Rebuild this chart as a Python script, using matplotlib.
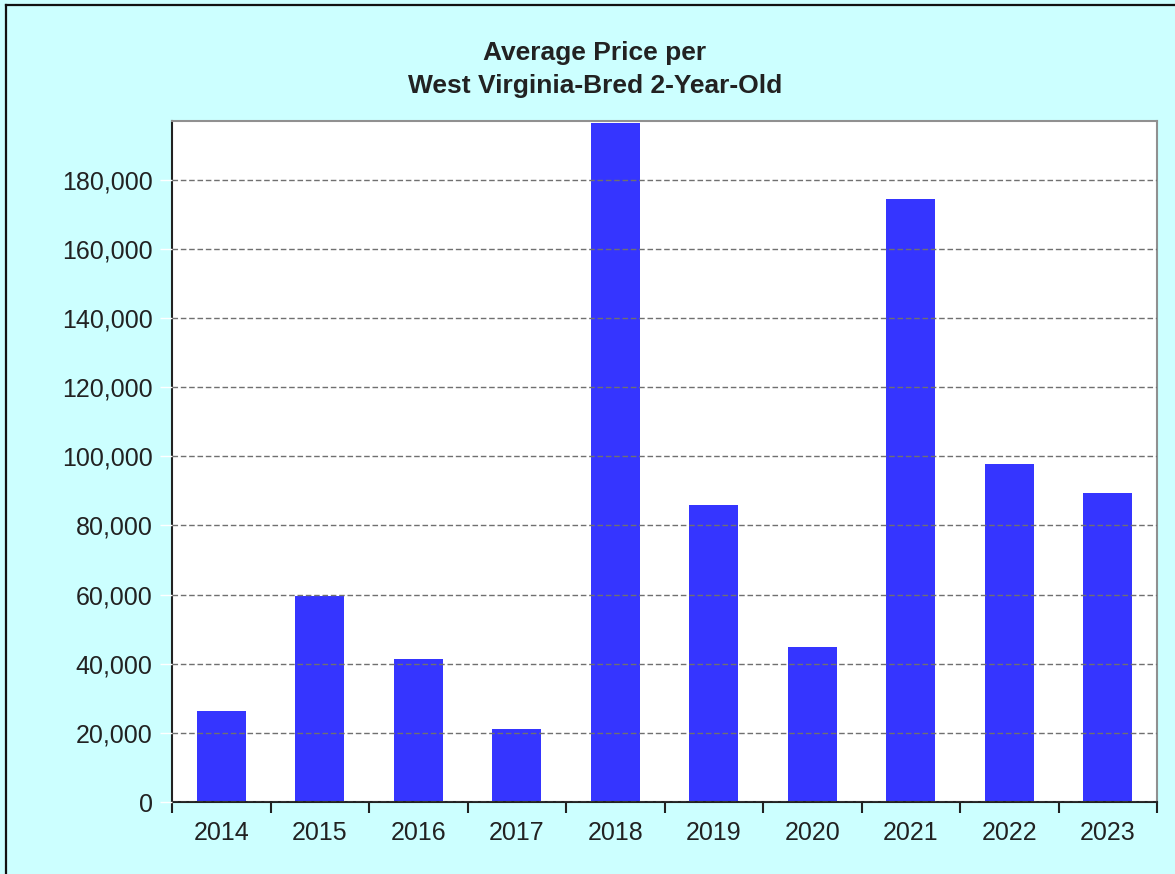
import matplotlib.pyplot as plt
import numpy as np
from matplotlib.lines import Line2D
from matplotlib.ticker import FuncFormatter

plt.rcParams['font.family'] = ['Liberation Sans', 'DejaVu Sans']

years = ['2014', '2015', '2016', '2017', '2018', '2019', '2020', '2021', '2022', '2023']
avg_price = [26400, 59700, 41300, 21100, 196500, 86000, 44900, 174400, 97800, 89400]
y_ticks = [0, 20000, 40000, 60000, 80000, 100000, 120000, 140000, 160000, 180000]
title_lines = ['Average Price per', 'West Virginia-Bred 2-Year-Old']

bg = '#ccffff'
bar_color = '#3535ff'

W, H = 1175, 874
fig = plt.figure(figsize=(W / 100, H / 100), dpi=100, facecolor=bg)
ax = fig.add_axes([172 / W, 1 - 802 / H, (1157 - 172) / W, (802 - 121) / H])
ax.set_facecolor('white')

x = np.arange(len(years))
ax.bar(x, avg_price, width=0.5, color=bar_color, zorder=1)

ax.set_xlim(-0.5, len(years) - 0.5)
ax.set_ylim(0, 197000)

# grid drawn over the bars
ax.set_yticks(y_ticks)
ax.yaxis.set_major_formatter(FuncFormatter(lambda v, p: f'{int(v):,}'))
ax.grid(axis='y', color='#707070', linestyle=(0, (4, 2)), linewidth=1.0, zorder=3)
ax.set_axisbelow(False)

ax.set_xticks(x)
ax.set_xticklabels(years)
ax.set_xticks(np.arange(len(years) + 1) - 0.5, minor=True)
ax.tick_params(axis='x', which='major', length=0, pad=14, labelsize=18, labelcolor='#222222')
ax.tick_params(axis='x', which='minor', length=8, width=1.5, color='#222222', direction='out')
ax.tick_params(axis='y', length=9, width=1, color='white', pad=5, labelsize=18, labelcolor='#222222')

ax.spines['left'].set_color('#222222')
ax.spines['bottom'].set_color('#222222')
ax.spines['left'].set_linewidth(1.5)
ax.spines['bottom'].set_linewidth(1.5)
ax.spines['top'].set_color('#909090')
ax.spines['right'].set_color('#909090')
ax.spines['top'].set_linewidth(1.5)
ax.spines['right'].set_linewidth(1.5)

# two-line title, baselines placed separately
for line, base_px in zip(title_lines, [60, 93]):
    fig.text(595 / W, 1 - base_px / H, line, ha='center', va='baseline',
             fontsize=19, fontweight='bold', color='#222222')

# outer frame (left and top edges only visible)
fl = 6 / W
ft = 1 - 5 / H
fig.add_artist(Line2D([fl, fl], [0, ft], color='#111111', linewidth=1.6, transform=fig.transFigure))
fig.add_artist(Line2D([fl, 1], [ft, ft], color='#111111', linewidth=1.6, transform=fig.transFigure))

plt.savefig('out.png', dpi=100, facecolor=bg)
plt.close()
